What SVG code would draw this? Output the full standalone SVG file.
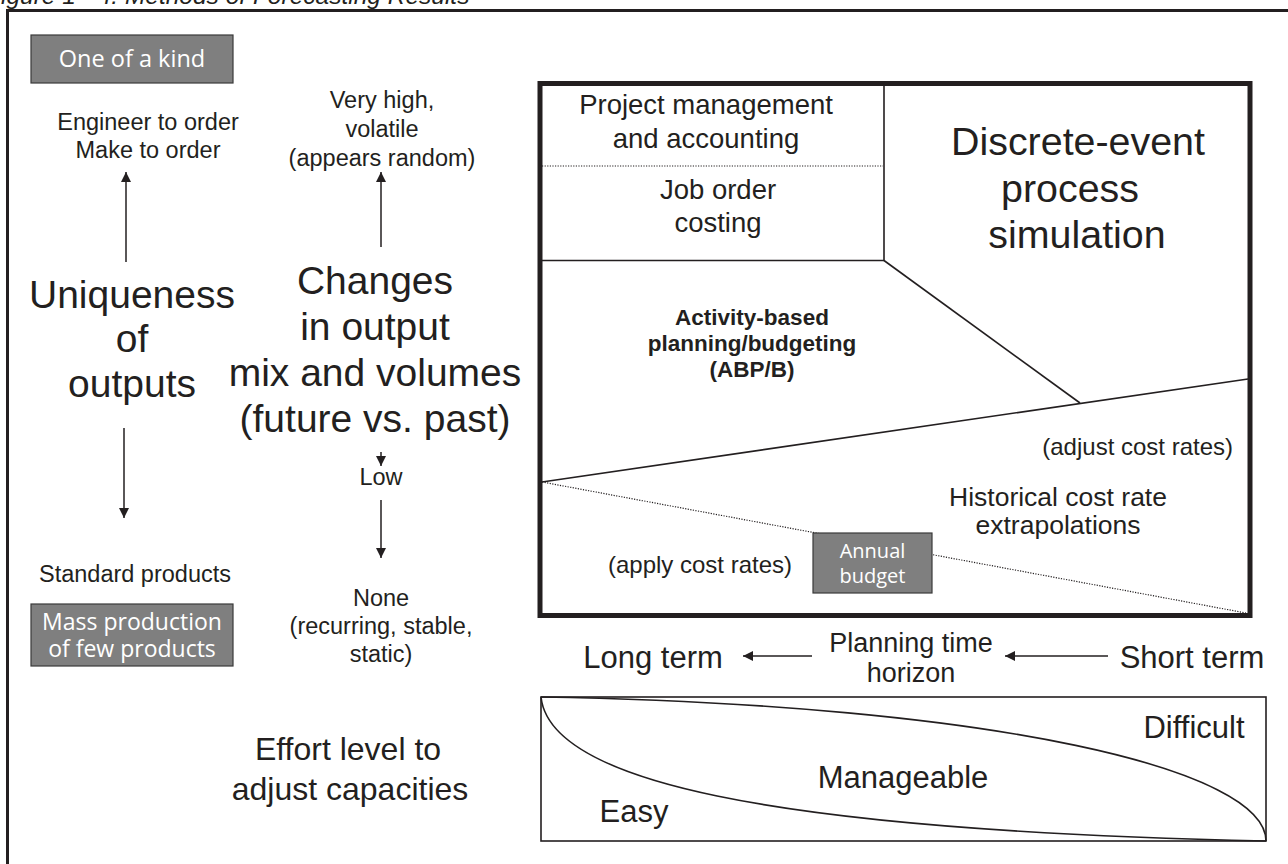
<svg xmlns="http://www.w3.org/2000/svg" width="1288" height="864" viewBox="0 0 1288 864">
  <style>
    .t { font-family: "Liberation Sans", Arial, sans-serif; fill: #231f20; text-anchor: middle; }
    .s { font-size: 23.5px; }
    .m { font-size: 27.5px; }
    .b { font-size: 39px; }
    .bold { font-weight: bold; font-size: 22.5px; }
    .box { fill: #7f7f7f; stroke: #3a3a3a; stroke-width: 1.2; }
    .bt { font-family: "Open Sans", "Noto Sans", sans-serif; fill: #ffffff; text-anchor: middle; }
    .ln { fill: none; stroke: #231f20; stroke-width: 1.6; }
    .dot { fill: none; stroke: #231f20; stroke-width: 1.2; stroke-dasharray: 1.2 1.4; }
    .arr { fill: none; stroke: #231f20; stroke-width: 1.5; marker-end: url(#head); }
  </style>
  <defs>
    <marker id="head" viewBox="0 0 10 10" refX="10" refY="5" markerUnits="userSpaceOnUse" markerWidth="10" markerHeight="10" orient="auto">
      <path d="M0,0 L10,5 L0,10 z" fill="#231f20"/>
    </marker>
  </defs>
  <rect width="1288" height="864" fill="#ffffff"/>

  <!-- caption, clipped by the top edge -->
  <text x="-14" y="4" font-family="Liberation Sans, Arial, sans-serif" font-size="24.5" font-style="italic" fill="#231f20">Figure 1 - 4. Methods of Forecasting Results</text>

  <!-- outer frame -->
  <path d="M7.5,870 V10.5 H1295" fill="none" stroke="#231f20" stroke-width="3"/>

  <!-- left column: uniqueness of outputs -->
  <g id="one-of-a-kind">
    <rect class="box" x="31" y="35" width="202" height="48"/>
    <text class="bt" x="132" y="67" font-size="23.5">One of a kind</text>
  </g>
  <g id="engineer-to-order">
    <text class="t s" x="148" y="130">Engineer to order</text>
    <text class="t s" x="148" y="158">Make to order</text>
  </g>
  <g id="uniqueness">
    <text class="t b" x="132" y="308">Uniqueness</text>
    <text class="t b" x="132" y="352">of</text>
    <text class="t b" x="132" y="397">outputs</text>
  </g>
  <g id="standard-products">
    <text class="t s" x="135" y="582">Standard products</text>
  </g>
  <g id="mass-production">
    <rect class="box" x="31" y="604" width="202" height="62"/>
    <text class="bt" x="132" y="630" font-size="23">Mass production</text>
    <text class="bt" x="132" y="657" font-size="23">of few products</text>
  </g>

  <!-- middle column: changes in output mix -->
  <g id="very-high">
    <text class="t s" x="382" y="108">Very high,</text>
    <text class="t s" x="382" y="137">volatile</text>
    <text class="t s" x="382" y="166">(appears random)</text>
  </g>
  <g id="changes">
    <text class="t b" x="375" y="294">Changes</text>
    <text class="t b" x="375" y="340">in output</text>
    <text class="t b" x="375" y="386">mix and volumes</text>
    <text class="t b" x="375" y="432">(future vs. past)</text>
  </g>
  <g id="low">
    <text class="t s" x="381" y="485">Low</text>
  </g>
  <g id="none">
    <text class="t s" x="381" y="606">None</text>
    <text class="t s" x="381" y="634">(recurring, stable,</text>
    <text class="t s" x="381" y="662">static)</text>
  </g>

  <!-- method map -->
  <g id="method-map">
    <rect x="540" y="83.5" width="710" height="532" fill="none" stroke="#231f20" stroke-width="5"/>
  </g>
  <g id="project-management">
    <path class="ln" d="M540,260.5 H884 V83.5"/>
    <text class="t m" x="706" y="114">Project management</text>
    <text class="t m" x="706" y="148">and accounting</text>
  </g>
  <g id="job-order-costing">
    <path class="dot" d="M542,166 H883"/>
    <text class="t m" x="718" y="199">Job order</text>
    <text class="t m" x="718" y="232">costing</text>
  </g>
  <g id="discrete-event">
    <text class="t" x="1078" y="155" font-size="39.4">Discrete-event</text>
    <text class="t" x="1070" y="201.5" font-size="39.4">process</text>
    <text class="t" x="1077" y="248" font-size="39.4">simulation</text>
  </g>
  <g id="activity-based">
    <text class="t bold" x="752" y="325">Activity-based</text>
    <text class="t bold" x="752" y="351">planning/budgeting</text>
    <text class="t bold" x="752" y="377">(ABP/B)</text>
  </g>
  <g id="historical">
    <text class="t" x="1233" y="455" font-size="24" style="text-anchor:end">(adjust cost rates)</text>
    <text class="t" x="1058" y="506" font-size="26.5">Historical cost rate</text>
    <text class="t" x="1058" y="534" font-size="26.5">extrapolations</text>
    <text class="t" x="700" y="573" font-size="24">(apply cost rates)</text>
  </g>

  <!-- boundaries and arrows -->
  <g id="connectors">
    <path class="ln" d="M884,260.5 L1080,403"/>
    <path class="ln" d="M542,482 L1248,379"/>
    <path class="dot" d="M542,482 L1246,613"/>
    <path class="arr" d="M126,262 V172"/>
    <path class="arr" d="M124,428 V518"/>
    <path class="arr" d="M381,247 V172"/>
    <path class="arr" d="M381,452 V466"/>
    <path class="arr" d="M381,500 V558"/>
    <path class="arr" d="M812,656 H743"/>
    <path class="arr" d="M1108,656 H1005"/>
  </g>

  <g id="annual-budget">
    <rect class="box" x="813" y="533" width="119" height="60"/>
    <text class="bt" x="872.5" y="558" font-size="20">Annual</text>
    <text class="bt" x="872.5" y="583" font-size="20">budget</text>
  </g>

  <!-- planning time horizon -->
  <g id="long-term">
    <text class="t" x="653" y="668" font-size="31">Long term</text>
  </g>
  <g id="planning-time">
    <text class="t" x="911" y="652" font-size="27">Planning time</text>
    <text class="t" x="911" y="682" font-size="27">horizon</text>
  </g>
  <g id="short-term">
    <text class="t" x="1192" y="668" font-size="31">Short term</text>
  </g>

  <!-- effort level -->
  <g id="effort-label">
    <text class="t" x="348" y="760" font-size="32">Effort level to</text>
    <text class="t" x="350" y="800" font-size="32">adjust capacities</text>
  </g>
  <g id="effort-chart">
    <rect x="541" y="697" width="725" height="144" fill="none" stroke="#231f20" stroke-width="1.6"/>
    <path class="ln" d="M541,697 C550,780 760,830 1266,841"/>
    <path class="ln" d="M541,697 C1000,705 1266,770 1266,841"/>
    <text class="t" x="1194" y="738" font-size="31">Difficult</text>
    <text class="t" x="903" y="788" font-size="31">Manageable</text>
    <text class="t" x="634" y="822" font-size="31">Easy</text>
  </g>
</svg>
